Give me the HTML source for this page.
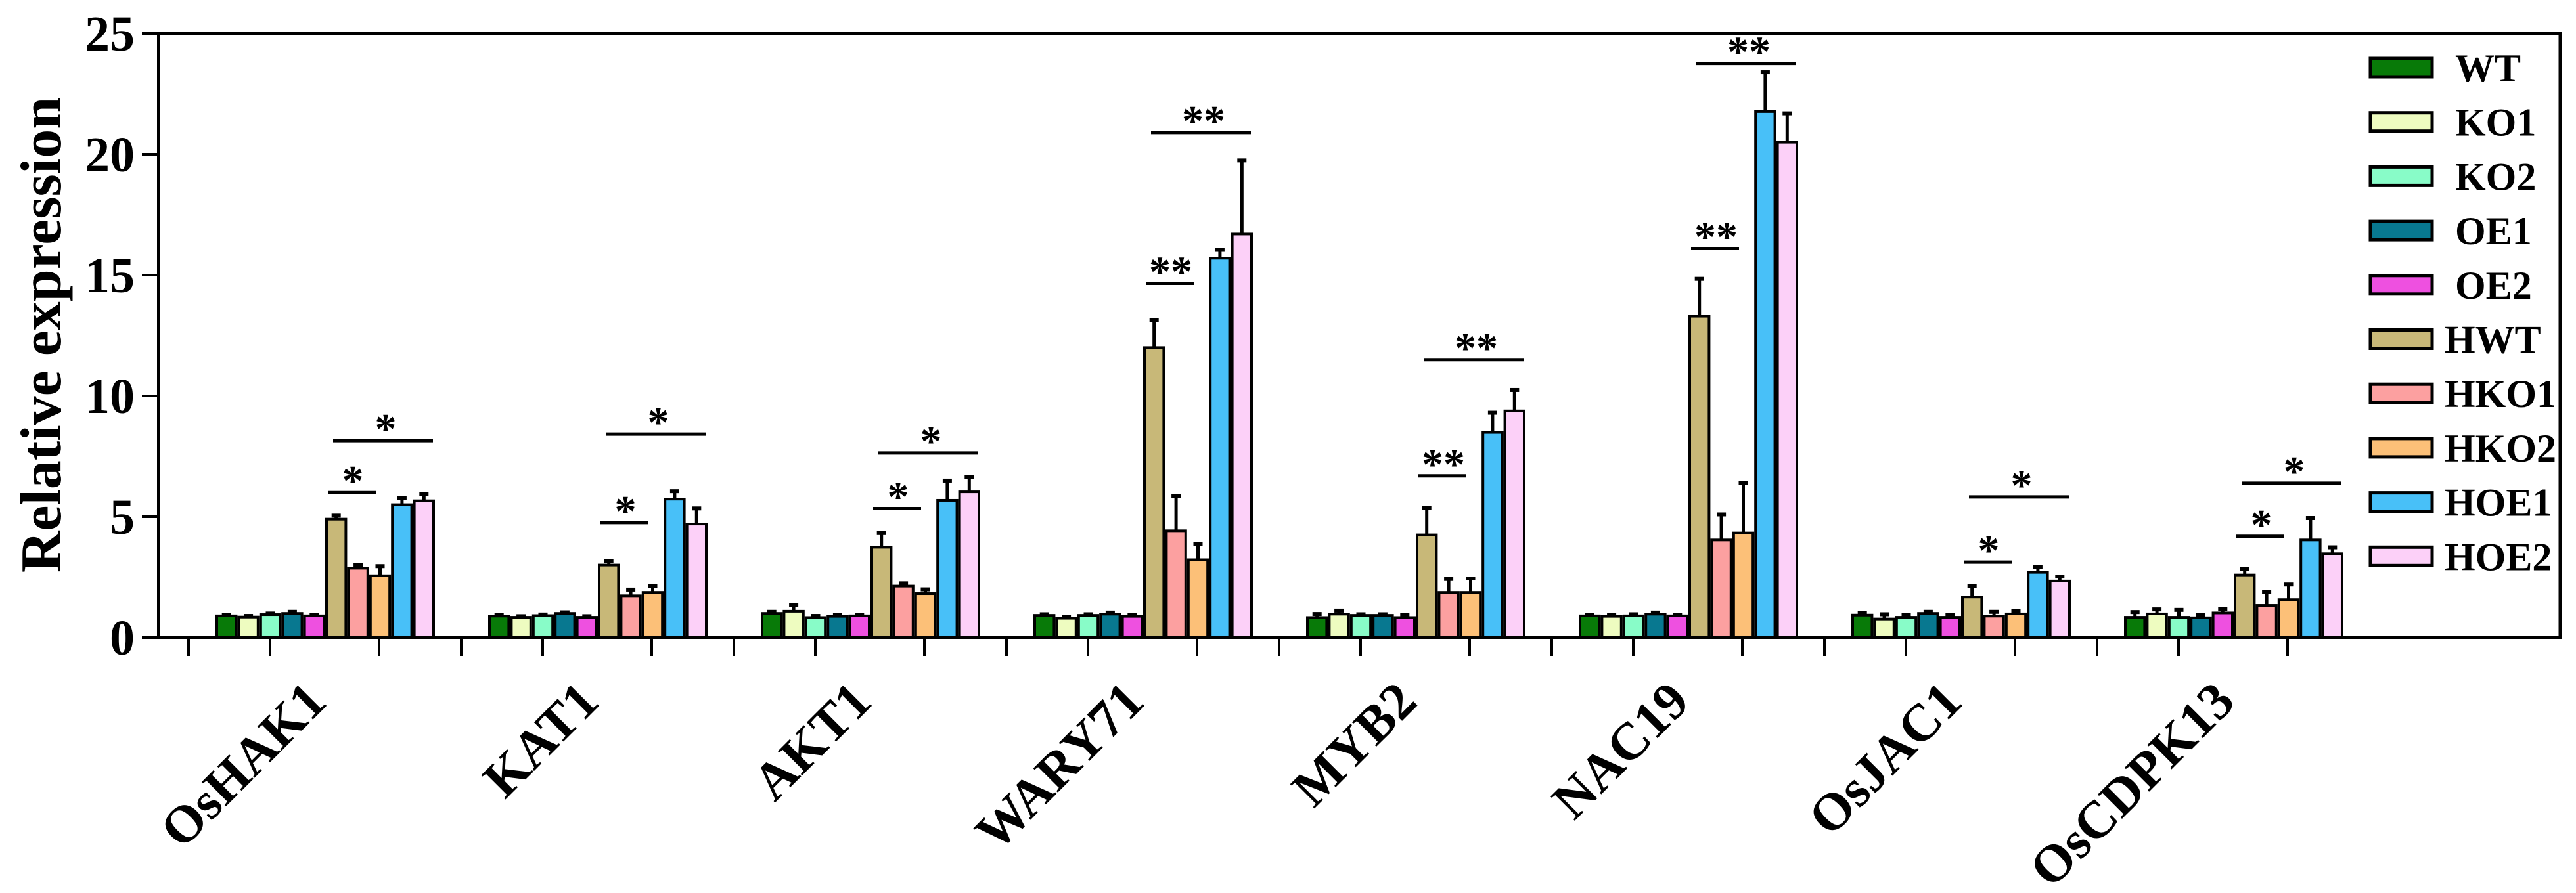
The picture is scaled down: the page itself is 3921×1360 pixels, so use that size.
<!DOCTYPE html>
<html><head><meta charset="utf-8"><style>
html,body{margin:0;padding:0;background:#fff;}
svg{display:block;}
text{font-family:"Liberation Serif",serif;font-weight:bold;fill:#000;}
</style></head><body>
<svg id="chart" width="3921" height="1360" viewBox="0 0 3921 1360" xmlns="http://www.w3.org/2000/svg">
<g id="frame">
<line x1="216" y1="51" x2="3897" y2="51" stroke="#000" stroke-width="5"/>
<line x1="3897" y1="49" x2="3897" y2="973" stroke="#000" stroke-width="5"/>
<line x1="241" y1="51" x2="241" y2="973" stroke="#000" stroke-width="4"/>
<line x1="241" y1="971" x2="3897" y2="971" stroke="#000" stroke-width="4"/>
</g>
<text x="0" y="0" font-size="88" text-anchor="middle" transform="translate(92,510) rotate(-90)">Relative expression</text>
<g id="yaxis"></g>
<g id="xaxis"></g>
<g id="bars"></g>
<g id="sig"></g>
<g id="legend"></g>
</svg>
<script>
const categories = ["OsHAK1","KAT1","AKT1","WARY71","MYB2","NAC19","OsJAC1","OsCDPK13"];
const seriesNames = ["WT","KO1","KO2","OE1","OE2","HWT","HKO1","HKO2","HOE1","HOE2"];
const seriesColors = ["#087a08","#eefcc0","#88fcc8","#087890","#ee50e0","#c8b878","#fca0a0","#fcc078","#48c0f8","#fcd0f8"];
const valOsHAK1 = [0.9,0.85,0.95,1.0,0.9,4.9,2.87,2.56,5.5,5.66];
const errOsHAK1 = [0.1,0.1,0.1,0.12,0.1,0.2,0.2,0.45,0.33,0.33];
const valKAT1 = [0.89,0.84,0.91,1.0,0.84,3.0,1.73,1.87,5.73,4.7];
const errKAT1 = [0.1,0.1,0.1,0.1,0.1,0.22,0.31,0.31,0.38,0.7];
const valAKT1 = [1.0,1.09,0.83,0.88,0.9,3.74,2.13,1.82,5.68,6.03];
const errAKT1 = [0.12,0.3,0.12,0.12,0.1,0.64,0.17,0.23,0.87,0.66];
const valWARY71 = [0.92,0.8,0.92,0.97,0.88,12.0,4.42,3.22,15.7,16.7];
const errWARY71 = [0.1,0.1,0.1,0.12,0.1,1.2,1.48,0.7,0.4,3.1];
const valMYB2 = [0.83,0.97,0.92,0.92,0.83,4.25,1.87,1.87,8.49,9.38];
const errMYB2 = [0.2,0.2,0.1,0.1,0.17,1.17,0.61,0.63,0.87,0.92];
const valNAC19 = [0.9,0.88,0.9,0.97,0.9,13.3,4.04,4.33,21.77,20.5];
const errNAC19 = [0.1,0.1,0.12,0.12,0.1,1.6,1.11,2.13,1.68,1.25];
const valOsJAC1 = [0.93,0.77,0.84,1.0,0.84,1.68,0.89,0.98,2.7,2.34];
const errOsJAC1 = [0.13,0.25,0.15,0.12,0.14,0.5,0.23,0.18,0.27,0.24];
const valOsCDPK13 = [0.84,0.98,0.84,0.82,1.02,2.59,1.33,1.57,4.04,3.47];
const errOsCDPK13 = [0.27,0.24,0.36,0.16,0.23,0.31,0.62,0.68,0.96,0.32];
const values = [valOsHAK1,valKAT1,valAKT1,valWARY71,valMYB2,valNAC19,valOsJAC1,valOsCDPK13];
const errors = [errOsHAK1,errKAT1,errAKT1,errWARY71,errMYB2,errNAC19,errOsJAC1,errOsCDPK13];
const sigShortY = [6.0,4.76,5.34,14.66,6.69,16.1,3.12,4.19];
const sigLongY = [8.15,8.42,7.64,20.9,11.5,23.76,5.82,6.39];
const sigLabel = ["*","*","*","**","**","**","*","*"];
const yTicks = [0,5,10,15,20,25];

const NS="http://www.w3.org/2000/svg";
const y0=971, yTop=51, yMax=25;
function yScale(v){return y0-(y0-yTop)*v/yMax;}
const groupW=415, groupStart=287, barPitch=33.4, barOff=41;
function groupX(i){return groupStart+i*groupW;}
function barX(i,j){return groupX(i)+barOff+j*barPitch;}
function mk(tag,attrs,parent){const e=document.createElementNS(NS,tag);for(const k in attrs)e.setAttribute(k,attrs[k]);parent.appendChild(e);return e;}

const yaxis=document.getElementById('yaxis');
yTicks.forEach(t=>{
  const y=yScale(t);
  const l=mk('line',{x1:216,y1:y,x2:241,y2:y,stroke:'#000','stroke-width':4},yaxis);
  
  
  const tx=mk('text',{x:205,y:y+26,'font-size':76,'text-anchor':'end'},yaxis);
  tx.textContent=t;
  
  
});

const xaxis=document.getElementById('xaxis');
const bars=document.getElementById('bars');
const sig=document.getElementById('sig');
categories.forEach((c,i)=>{
  [0,124,290].forEach(off=>{
    const x=groupX(i)+off;
    const l=mk('line',{x1:x,y1:971,x2:x,y2:999,stroke:'#000','stroke-width':4},xaxis);
    
    
  });
  const cx=groupX(i)+barOff+5*barPitch+5;
  const lab=mk('text',{x:0,y:0,'font-size':80,'text-anchor':'end',transform:`translate(${cx},1072) rotate(-45)`},xaxis);
  lab.textContent=c;
  
  
  values[i].forEach((v,j)=>{
    const x=barX(i,j);
    const top=yScale(v), errTop=yScale(v+errors[i][j]);
    const cxb=x+barPitch/2;
    const e=mk('line',{x1:cxb,y1:top,x2:cxb,y2:errTop,stroke:'#000','stroke-width':5},bars);
    
    
    const cap=mk('line',{x1:cxb-7,y1:errTop+2,x2:cxb+7,y2:errTop+2,stroke:'#000','stroke-width':6},bars);
    
    
    const r=mk('rect',{x:x+2,y:top,width:barPitch-4,height:y0-top,fill:seriesColors[j],stroke:'#000','stroke-width':4},bars);
    
    
  });
  const gx=groupX(i);
  const ys=yScale(sigShortY[i]), yl=yScale(sigLongY[i]);
  const s1=mk('line',{x1:gx+212,y1:ys,x2:gx+285,y2:ys,stroke:'#000','stroke-width':5},sig);
  
  
  const s2=mk('line',{x1:gx+220,y1:yl,x2:gx+372,y2:yl,stroke:'#000','stroke-width':5},sig);
  
  
  const t1=mk('text',{x:gx+250,y:ys+4,'font-size':66,'text-anchor':'middle'},sig);
  t1.textContent=sigLabel[i];
  
  
  const t2=mk('text',{x:gx+300,y:yl+4,'font-size':66,'text-anchor':'middle'},sig);
  t2.textContent=sigLabel[i];
  
  
});

const legend=document.getElementById('legend');
seriesNames.forEach((n,j)=>{
  const cy=103+j*82.7;
  const r=mk('rect',{x:3608,y:cy-14,width:94,height:28,fill:seriesColors[j],stroke:'#000','stroke-width':5},legend);
  
  
  const t=mk('text',{x:(j<5?3737:3721),y:cy+21,'font-size':60},legend);
  t.textContent=n;
  
  
});
</script>
</body></html>
